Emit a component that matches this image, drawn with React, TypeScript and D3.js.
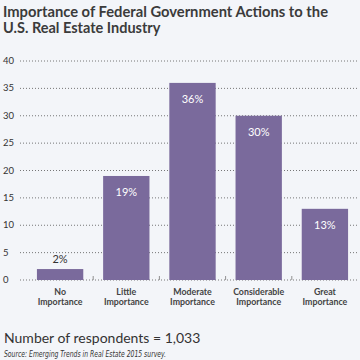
import React from "react";
import * as d3 from "d3";

const categories = [["No", "Importance"], ["Little", "Importance"], ["Moderate", "Importance"], ["Considerable", "Importance"], ["Great", "Importance"]];
const values = [2, 19, 36, 30, 13];
const labels = ["2%", "19%", "36%", "30%", "13%"];
const yTicks = [0, 5, 10, 15, 20, 25, 30, 35, 40];

export default function App() {
  const W = 360, H = 360;
  const x = d3.scaleBand<number>().domain(d3.range(values.length)).range([27, 358]).paddingInner(0.3).paddingOuter(0.15);
  const y = d3.scaleLinear().domain([0, 40]).range([280, 61]);
  const font = "Lato, 'Open Sans', sans-serif";
  const bar = "#7a6a9c";
  return (
    <svg width={W} height={H} style={{ position: "absolute", left: 0, top: 0, background: "#f3f5f9" }} fontFamily={font}>
      <rect width={W} height={H} fill="#f3f5f9" />
      <text x={3} y={16.5} fontSize={14.5} fontWeight={700} fill="#3b3b3b" textLength={325} lengthAdjust="spacingAndGlyphs">Importance of Federal Government Actions to the</text>
      <text x={3} y={33} fontSize={14.5} fontWeight={700} fill="#3b3b3b">U.S. Real Estate Industry</text>
      {yTicks.map((t) => (
        <g key={t}>
          <line x1={20} x2={358} y1={y(t)} y2={y(t)} stroke="#555" strokeWidth={0.8} strokeDasharray="1,2" />
          <text x={3} y={y(t) + 3} fontSize={9.5} fill="#333">{t}</text>
        </g>
      ))}
      {values.map((v, i) => {
        const bx = x(i)!;
        const bw = x.bandwidth();
        const inside = y(0) - y(v) > 20;
        return (
          <g key={i}>
            <rect x={bx} y={y(v)} width={bw} height={y(0) - y(v)} fill={bar} />
            <text x={bx + bw / 2} y={inside ? y(v) + 20 : y(v) - 6} textAnchor="middle" fontSize={11} fill={inside ? "#fff" : "#333"}>{labels[i]}</text>
            {categories[i].map((c, j) => (
              <text key={j} x={bx + bw / 2} y={294.5 + j * 10} textAnchor="middle" fontSize={8.8} fontWeight={700} fill="#444">{c}</text>
            ))}
            {i > 0 && <line x1={bx - (x.step() - bw) / 2} x2={bx - (x.step() - bw) / 2} y1={y(0)} y2={y(0) - 4} stroke="#777" strokeWidth={0.8} />}
          </g>
        );
      })}
      <text x={4} y={343} fontSize={14} fill="#333">Number of respondents = 1,033</text>
      <text x={4} y={357} fontSize={9.5} fill="#333" fontStyle="italic" textLength={162} lengthAdjust="spacingAndGlyphs" fontFamily="'Liberation Sans Narrow', 'DejaVu Sans Condensed', sans-serif">Source: Emerging Trends in Real Estate 2015 survey.</text>
    </svg>
  );
}
